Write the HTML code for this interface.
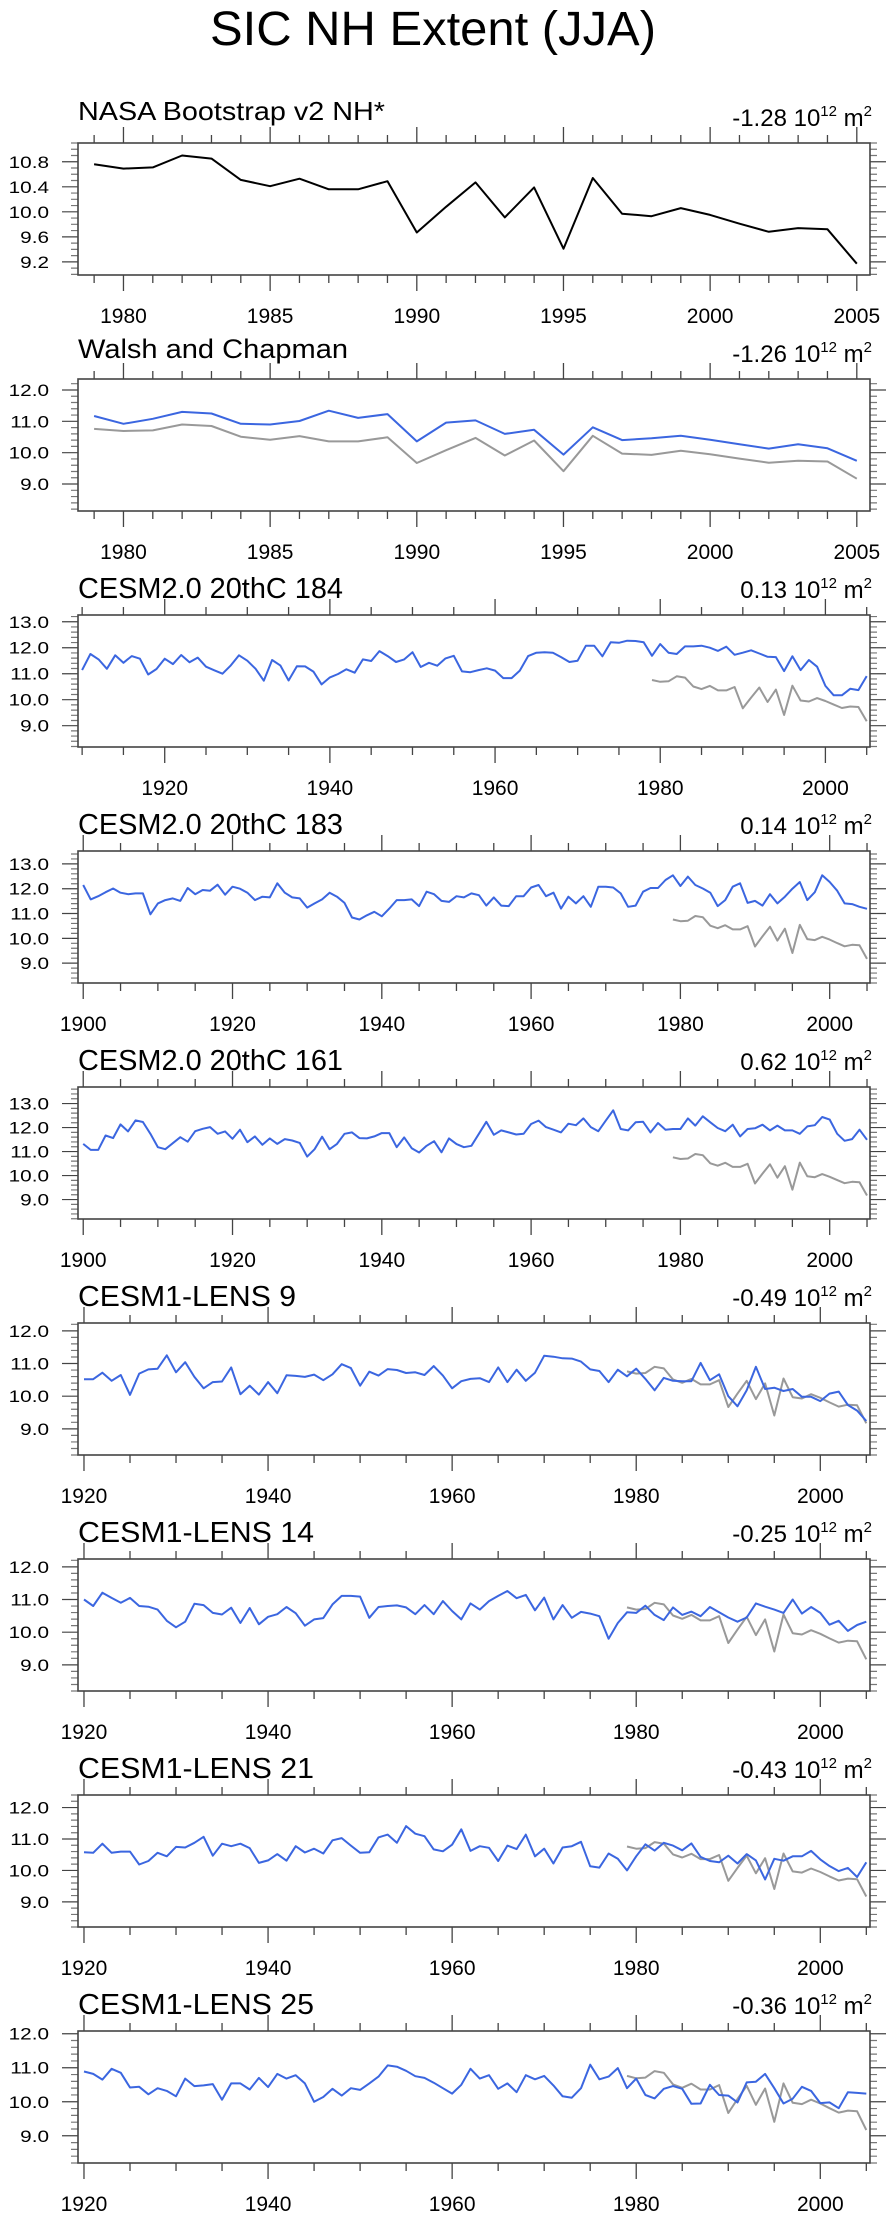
<!DOCTYPE html>
<html><head><meta charset="utf-8"><title>SIC NH Extent (JJA)</title>
<style>
html,body{margin:0;padding:0;background:#fff;}
svg{display:block;font-family:"Liberation Sans",Arial,sans-serif;}
</style></head>
<body>
<svg id="chart" width="896" height="2219" viewBox="0 0 896 2219" xmlns="http://www.w3.org/2000/svg">
<rect width="896" height="2219" fill="#fff"/>
<text x="433" y="45" font-size="48" text-anchor="middle" textLength="446" lengthAdjust="spacingAndGlyphs">SIC NH Extent (JJA)</text>
</svg>
<script>
// ---- data (10^12 m^2) ----
const obsStart = 1979;
const obs = [10.76,10.69,10.71,10.90,10.85,10.51,10.41,10.53,10.36,10.36,10.49,9.67,10.08,10.47,9.91,10.39,9.41,10.54,9.97,9.93,10.06,9.95,9.81,9.68,9.74,9.72,9.17];
const walsh = [11.17,10.92,11.08,11.30,11.25,10.92,10.90,11.01,11.34,11.11,11.23,10.36,10.96,11.03,10.60,10.73,9.94,10.81,10.40,10.46,10.54,10.41,10.27,10.13,10.27,10.14,9.74];
const c184Start = 1910;
const c184 = [11.14,11.76,11.55,11.19,11.71,11.42,11.68,11.58,10.97,11.18,11.58,11.37,11.72,11.44,11.62,11.27,11.13,11.00,11.32,11.71,11.50,11.19,10.73,11.53,11.32,10.74,11.29,11.28,11.08,10.59,10.86,10.99,11.17,11.04,11.55,11.49,11.87,11.68,11.45,11.55,11.83,11.26,11.42,11.31,11.59,11.69,11.09,11.06,11.14,11.21,11.12,10.83,10.83,11.12,11.68,11.81,11.83,11.81,11.64,11.45,11.50,12.08,12.08,11.67,12.21,12.19,12.27,12.26,12.21,11.69,12.14,11.81,11.76,12.05,12.05,12.08,12.00,11.88,12.04,11.73,11.81,11.90,11.78,11.65,11.64,11.10,11.67,11.14,11.53,11.27,10.53,10.17,10.17,10.42,10.37,10.91];
const c183Start = 1900;
const c183 = [12.15,11.57,11.70,11.86,12.01,11.84,11.78,11.81,11.81,10.97,11.41,11.54,11.61,11.51,12.03,11.78,11.95,11.92,12.16,11.76,12.08,12.00,11.84,11.54,11.68,11.65,12.22,11.84,11.65,11.61,11.24,11.41,11.57,11.84,11.68,11.43,10.84,10.76,10.93,11.07,10.89,11.20,11.54,11.54,11.57,11.30,11.88,11.78,11.51,11.47,11.70,11.65,11.81,11.74,11.32,11.65,11.32,11.30,11.70,11.70,12.05,12.15,11.70,11.84,11.20,11.68,11.41,11.70,11.27,12.08,12.08,12.05,11.81,11.27,11.32,11.88,12.03,12.03,12.35,12.54,12.11,12.49,12.15,12.01,11.84,11.30,11.54,12.08,12.22,11.43,11.51,11.32,11.78,11.41,11.68,12.00,12.27,11.54,11.86,12.54,12.27,11.92,11.41,11.38,11.27,11.19];
const c161Start = 1900;
const c161 = [11.32,11.07,11.07,11.67,11.56,12.13,11.84,12.30,12.23,11.74,11.18,11.10,11.35,11.60,11.41,11.85,11.95,12.02,11.74,11.84,11.53,11.91,11.39,11.63,11.28,11.55,11.32,11.52,11.46,11.36,10.79,11.10,11.62,11.10,11.32,11.74,11.80,11.56,11.55,11.63,11.77,11.77,11.18,11.59,11.14,10.96,11.24,11.43,10.97,11.55,11.31,11.18,11.24,11.74,12.24,11.70,11.88,11.80,11.71,11.74,12.15,12.29,12.02,11.91,11.80,12.16,12.10,12.38,12.02,11.85,12.29,12.72,11.94,11.88,12.22,12.24,11.80,12.19,11.91,11.94,11.94,12.38,12.08,12.47,12.22,11.98,11.85,12.12,11.63,11.94,11.97,12.12,11.88,12.08,11.88,11.88,11.74,12.05,12.10,12.44,12.33,11.74,11.45,11.52,11.91,11.49];
const lensStart = 1920;
const l9 = [10.52,10.52,10.72,10.47,10.65,10.04,10.69,10.82,10.84,11.25,10.73,11.04,10.59,10.24,10.43,10.45,10.88,10.06,10.32,10.05,10.43,10.09,10.64,10.62,10.59,10.66,10.49,10.67,10.98,10.86,10.32,10.75,10.63,10.83,10.80,10.71,10.73,10.65,10.92,10.63,10.24,10.46,10.53,10.55,10.43,10.88,10.43,10.81,10.47,10.72,11.24,11.21,11.16,11.15,11.06,10.82,10.77,10.43,10.81,10.61,10.84,10.53,10.18,10.56,10.47,10.46,10.46,11.02,10.49,10.67,10.00,9.69,10.18,10.90,10.22,10.26,10.16,10.22,9.98,9.98,9.85,10.08,10.14,9.73,9.56,9.24];
const l14 = [11.00,10.80,11.21,11.05,10.90,11.05,10.80,10.78,10.69,10.35,10.15,10.32,10.87,10.83,10.59,10.54,10.75,10.28,10.74,10.24,10.47,10.55,10.77,10.58,10.20,10.39,10.43,10.85,11.11,11.11,11.09,10.44,10.77,10.80,10.82,10.76,10.55,10.83,10.55,10.95,10.65,10.39,10.88,10.69,10.95,11.11,11.26,11.04,11.14,10.67,11.06,10.39,10.83,10.44,10.62,10.57,10.49,9.80,10.28,10.61,10.59,10.81,10.53,10.37,10.76,10.53,10.63,10.49,10.77,10.61,10.45,10.32,10.45,10.88,10.78,10.69,10.59,11.00,10.57,10.77,10.59,10.23,10.35,10.04,10.22,10.32];
const l21 = [10.58,10.56,10.85,10.56,10.60,10.60,10.19,10.30,10.56,10.45,10.75,10.73,10.88,11.07,10.47,10.85,10.77,10.85,10.71,10.24,10.32,10.52,10.31,10.77,10.57,10.69,10.54,10.96,11.03,10.79,10.56,10.58,11.05,11.14,10.88,11.41,11.17,11.09,10.67,10.61,10.82,11.31,10.62,10.77,10.72,10.30,10.79,10.68,11.14,10.45,10.69,10.22,10.73,10.77,10.91,10.13,10.09,10.54,10.37,10.00,10.45,10.83,10.63,10.88,10.79,10.64,10.86,10.43,10.30,10.26,10.47,10.22,10.52,10.32,9.71,10.37,10.31,10.45,10.45,10.62,10.35,10.14,9.98,10.08,9.79,10.26];
const l25 = [10.89,10.82,10.65,10.97,10.85,10.42,10.44,10.22,10.40,10.32,10.16,10.68,10.46,10.48,10.52,10.06,10.54,10.54,10.36,10.70,10.43,10.82,10.68,10.78,10.54,10.00,10.14,10.38,10.18,10.40,10.35,10.54,10.74,11.07,11.03,10.91,10.75,10.70,10.56,10.40,10.24,10.50,10.97,10.68,10.78,10.38,10.54,10.28,10.78,10.66,10.76,10.48,10.16,10.12,10.40,11.09,10.66,10.74,10.99,10.40,10.68,10.20,10.10,10.38,10.46,10.38,9.94,9.95,10.50,10.20,10.18,9.98,10.57,10.59,10.82,10.40,9.95,10.09,10.44,10.32,9.96,9.98,9.81,10.28,10.26,10.24];
const panelTitles = ["NASA Bootstrap v2 NH*","Walsh and Chapman","CESM2.0 20thC 184","CESM2.0 20thC 183","CESM2.0 20thC 161","CESM1-LENS 9","CESM1-LENS 14","CESM1-LENS 21","CESM1-LENS 25"];
const trendValues = ["-1.28","-1.26","0.13","0.14","0.62","-0.49","-0.25","-0.43","-0.36"];

// ---- layout ----
const NS = "http://www.w3.org/2000/svg";
const svg = document.getElementById("chart");
const BLUE = "#3b66e0", GRAY = "#999999", AX = "#444";
const L = 78, R = 870, TOP0 = 143, STEP = 236, H = 132;

function mk(tag, attrs, parent) {
  const e = document.createElementNS(NS, tag);
  for (const k in attrs) e.setAttribute(k, attrs[k]);
  (parent || svg).appendChild(e);
  return e;
}

const panels = [
  {y0:8.99,y1:11.1,yMaj:0.4,yMajFrom:9.2,yMin:0.1,x0:1978.45,x1:2005.45,xMaj:5,xMin:1,titleLen:307,titleFs:26,titleDy:23,
   series:[{d:obs,s:obsStart,c:"#000"}]},
  {y0:8.14,y1:12.35,yMaj:1,yMajFrom:9,yMin:0.2,x0:1978.45,x1:2005.45,xMaj:5,xMin:1,titleLen:270,titleFs:27,titleDy:21,
   series:[{d:obs,s:obsStart,c:GRAY},{d:walsh,s:obsStart,c:BLUE}]},
  {y0:8.18,y1:13.26,yMaj:1,yMajFrom:9,yMin:0.2,x0:1909.5,x1:2005.4,xMaj:20,xMin:5,titleLen:265,titleFs:29,titleDy:17,
   series:[{d:c184,s:c184Start,c:BLUE},{d:obs,s:obsStart,c:GRAY}]},
  {y0:8.2,y1:13.52,yMaj:1,yMajFrom:9,yMin:0.2,x0:1899.3,x1:2005.4,xMaj:20,xMin:5,titleLen:265,titleFs:29,titleDy:17,
   series:[{d:c183,s:c183Start,c:BLUE},{d:obs,s:obsStart,c:GRAY}]},
  {y0:8.19,y1:13.69,yMaj:1,yMajFrom:9,yMin:0.2,x0:1899.3,x1:2005.4,xMaj:20,xMin:5,titleLen:265,titleFs:29,titleDy:17,
   series:[{d:c161,s:c161Start,c:BLUE},{d:obs,s:obsStart,c:GRAY}]},
  {y0:8.2,y1:12.24,yMaj:1,yMajFrom:9,yMin:0.2,x0:1919.35,x1:2005.4,xMaj:20,xMin:5,titleLen:218,titleFs:29,titleDy:17,
   series:[{d:obs,s:obsStart,c:GRAY},{d:l9,s:lensStart,c:BLUE}]},
  {y0:8.2,y1:12.24,yMaj:1,yMajFrom:9,yMin:0.2,x0:1919.35,x1:2005.4,xMaj:20,xMin:5,titleLen:236,titleFs:29,titleDy:17,
   series:[{d:obs,s:obsStart,c:GRAY},{d:l14,s:lensStart,c:BLUE}]},
  {y0:8.2,y1:12.4,yMaj:1,yMajFrom:9,yMin:0.2,x0:1919.35,x1:2005.4,xMaj:20,xMin:5,titleLen:236,titleFs:29,titleDy:17,
   series:[{d:obs,s:obsStart,c:GRAY},{d:l21,s:lensStart,c:BLUE}]},
  {y0:8.2,y1:12.08,yMaj:1,yMajFrom:9,yMin:0.2,x0:1919.35,x1:2005.4,xMaj:20,xMin:5,titleLen:236,titleFs:29,titleDy:17,
   series:[{d:obs,s:obsStart,c:GRAY},{d:l25,s:lensStart,c:BLUE}]}
];

panels.forEach((p, i) => {
  const top = TOP0 + STEP * i, bot = top + H;
  const g = mk("g", {});
  
  
  const sx = v => L + (v - p.x0) / (p.x1 - p.x0) * (R - L);
  const sy = v => bot - (v - p.y0) / (p.y1 - p.y0) * H;

  const t = mk("text", {x: L, y: top - p.titleDy, "font-size": p.titleFs, textLength: p.titleLen, lengthAdjust: "spacingAndGlyphs"}, g);
  t.textContent = panelTitles[i];
  
  

  const tr = mk("text", {x: 872, y: top - 17, "font-size": 24, "text-anchor": "end"}, g);
  
  
  const a = mk("tspan", {}, tr); a.textContent = trendValues[i] + " 10";
  const b = mk("tspan", {"font-size": 15, dy: -10}, tr); b.textContent = "12";
  const c = mk("tspan", {dy: 10}, tr); c.textContent = " m";
  const d = mk("tspan", {"font-size": 15, dy: -10}, tr); d.textContent = "2";

  const xStart = Math.ceil(p.x0 / p.xMin) * p.xMin;
  for (let yr = xStart; yr <= p.x1; yr += p.xMin) {
    const x = sx(yr), major = (yr % p.xMaj === 0);
    const len = major ? 16 : 8;
    const tk = mk("path", {d: `M${x},${top}V${top - len}M${x},${bot}V${bot + len}`, stroke: AX, "stroke-width": 1.3}, g);
    
    
    if (major) {
      const lb = mk("text", {x: x, y: bot + 48, "font-size": 21, "text-anchor": "middle"}, g);
      lb.textContent = String(yr);
      
      
    }
  }
  const nMin = Math.round(p.yMaj / p.yMin);
  const kStart = Math.ceil((p.y0 - p.yMajFrom) / p.yMin - 1e-6);
  const kEnd = Math.floor((p.y1 - p.yMajFrom) / p.yMin + 1e-6);
  for (let k = kStart; k <= kEnd; k++) {
    const v = p.yMajFrom + k * p.yMin, y = sy(v);
    const major = ((k % nMin) + nMin) % nMin === 0;
    const len = major ? 16 : 7;
    const tk = mk("path", {d: `M${L},${y}H${L - len}M${R},${y}H${R + len}`, stroke: major ? AX : "#777", "stroke-width": 1.2}, g);
    
    
    if (major) {
      const lb = mk("text", {x: 0, y: 0, "font-size": 17, "text-anchor": "end", transform: `translate(49,${y + 6}) scale(1.22,1)`}, g);
      lb.textContent = v.toFixed(1);
      
      
    }
  }
  p.series.forEach(s => {
    const pts = s.d.map((v, j) => sx(s.s + j).toFixed(1) + "," + sy(v).toFixed(1)).join(" ");
    const pl = mk("polyline", {points: pts, fill: "none", stroke: s.c, "stroke-width": 2, "stroke-linejoin": "round"}, g);
    
    
  });
  const fr = mk("rect", {x: L, y: top, width: R - L, height: H, fill: "none", stroke: AX, "stroke-width": 1.6}, g);
  
  
});
</script>
</body></html>
